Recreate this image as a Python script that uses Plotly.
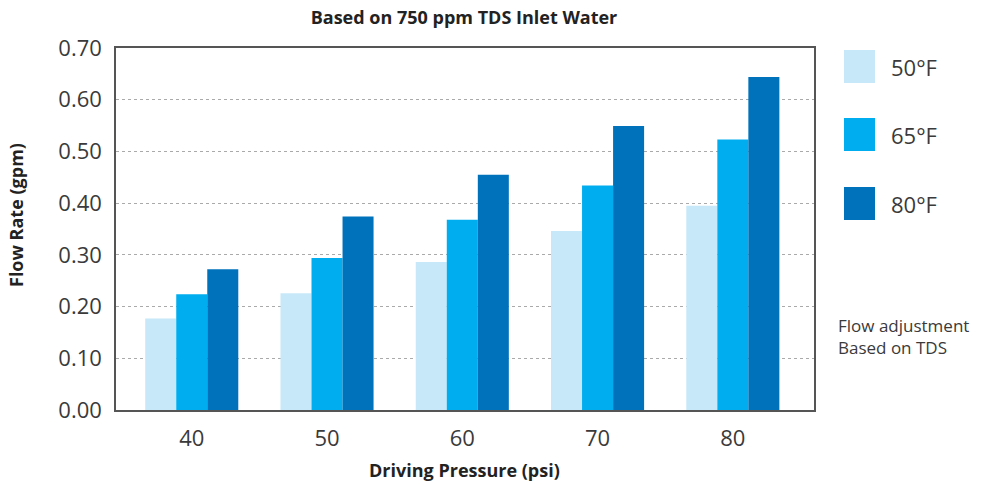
import plotly.graph_objects as go

pressures = [40, 50, 60, 70, 80]
series_names = ["50°F", "65°F", "80°F"]
flow_50f = [0.177, 0.226, 0.286, 0.346, 0.395]
flow_65f = [0.224, 0.294, 0.368, 0.434, 0.523]
flow_80f = [0.272, 0.374, 0.455, 0.549, 0.644]
colors = ["#C7E8F8", "#00ADEE", "#0072BC"]
y_ticks = [0.0, 0.1, 0.2, 0.3, 0.4, 0.5, 0.6, 0.7]

FONT = "Open Sans"
L, T, R, B = 116, 48, 814, 410
PW, PH = R - L, B - T

def px(x):
    return (x - L) / PW

def py(y):
    return (B - y) / PH

fig = go.Figure()
for name, vals, c in zip(series_names, [flow_50f, flow_65f, flow_80f], colors):
    fig.add_trace(go.Bar(x=pressures, y=vals, name=name, marker=dict(color=c, line=dict(width=0)),
                         showlegend=False))

fig.update_layout(
    width=986, height=488,
    margin=dict(l=L, r=986 - R, t=T, b=488 - B, autoexpand=False),
    plot_bgcolor="white", paper_bgcolor="white",
    barmode="group", bargap=0.312, bargroupgap=0,
    font=dict(family=FONT, color="#333"),
    title=dict(text="<b>Based on 750 ppm TDS Inlet Water</b>", x=464/986, xanchor="center",
               y=1-18/488, yanchor="middle", font=dict(size=18, color="#222", family=FONT)),
)
fig.update_xaxes(range=[34.4, 86.0], tickvals=pressures, ticktext=[str(p) for p in pressures],
                 showgrid=False, zeroline=False, showline=True, linecolor="#555", linewidth=1.5,
                 mirror=True, tickfont=dict(size=22, color="#3a3a3a"), ticks="outside", ticklen=8,
                 tickcolor="rgba(0,0,0,0)", automargin=False)
fig.update_yaxes(range=[0, 0.70], tickvals=y_ticks, ticktext=[f"{v:.2f}" for v in y_ticks],
                 showgrid=True, gridcolor="#aaa", griddash="dot", gridwidth=1, zeroline=False,
                 showline=True, linecolor="#555", linewidth=1.5, mirror=True,
                 tickfont=dict(size=22, color="#3a3a3a"), ticks="outside", ticklen=8,
                 tickcolor="rgba(0,0,0,0)", automargin=False)

# axis titles
fig.add_annotation(xref="paper", yref="paper", x=px(464), y=py(470), text="<b>Driving Pressure (psi)</b>",
                   showarrow=False, xanchor="center", yanchor="middle",
                   font=dict(size=18, color="#222"))
fig.add_annotation(xref="paper", yref="paper", x=px(16), y=py(215), text="<b>Flow Rate (gpm)</b>",
                   showarrow=False, xanchor="center", yanchor="middle", textangle=-90,
                   font=dict(size=18, color="#222"))

# custom legend
box_tops = [50, 118, 187]
for name, c, top in zip(series_names, colors, box_tops):
    fig.add_shape(type="rect", xref="paper", yref="paper",
                  x0=px(844), x1=px(875), y0=py(top), y1=py(top + 33),
                  fillcolor=c, line=dict(width=0))
    fig.add_annotation(xref="paper", yref="paper", x=px(889), y=py(top + 17),
                       text=name, showarrow=False, xanchor="left", yanchor="middle",
                       font=dict(size=22, color="#3a3a3a"))

fig.add_annotation(xref="paper", yref="paper", x=px(836), y=py(336),
                   text="Flow adjustment<br>Based on TDS", showarrow=False, xanchor="left",
                   yanchor="middle", align="left", font=dict(size=17, color="#3a3a3a"))

fig.write_html("out.html", config={"displayModeBar": False},
               post_script="document.body.style.margin='0';document.body.style.padding='0';")
